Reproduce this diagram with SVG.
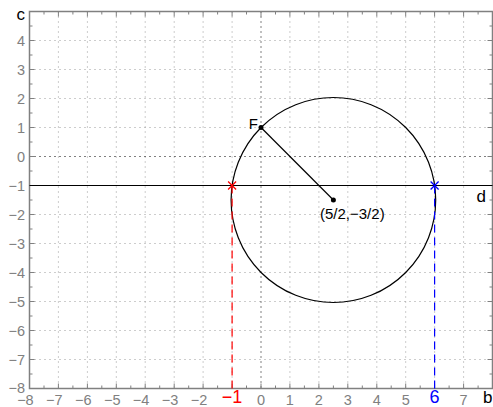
<svg xmlns="http://www.w3.org/2000/svg" width="493" height="407" viewBox="0 0 493 407">
<style>
.grid{fill:none;stroke:#9a9a9a;stroke-width:1;stroke-dasharray:1 4}
.zero{fill:none;stroke:#000;stroke-width:1;stroke-dasharray:1 4}
.frame{fill:none;stroke:#808080;stroke-width:1.5}
.tick{fill:none;stroke:#808080;stroke-width:1}
.lbl{font-family:"Liberation Sans",Arial,sans-serif;font-size:14.5px;fill:#808080}
.ax{font-family:"Liberation Sans",Arial,sans-serif;font-size:17px;fill:#000}
.txt{font-family:"Liberation Sans",Arial,sans-serif;font-size:15px;fill:#000}
.curve{fill:none;stroke:#000;stroke-width:1.2}
</style>
<rect width="493" height="407" fill="#fff"/>
<g id="grid">
<path class="grid" d="M58.4 11.5V388.5M87.4 11.5V388.5M116.3 11.5V388.5M145.2 11.5V388.5M174.2 11.5V388.5M203.1 11.5V388.5M232.1 11.5V388.5M289.9 11.5V388.5M318.9 11.5V388.5M347.8 11.5V388.5M376.8 11.5V388.5M405.7 11.5V388.5M434.6 11.5V388.5M463.6 11.5V388.5"/>
<path class="grid" d="M29.5 40.5H492.5M29.5 69.5H492.5M29.5 98.5H492.5M29.5 127.5H492.5M29.5 185.5H492.5M29.5 214.5H492.5M29.5 243.5H492.5M29.5 272.5H492.5M29.5 301.5H492.5M29.5 330.5H492.5M29.5 359.5H492.5"/>
<path class="zero" d="M261 11.5V388.5M29.5 156.5H492.5"/>
</g>
<g id="axes">
<path class="tick" d="M58.4 388.5v-5M87.4 388.5v-5M116.3 388.5v-5M145.2 388.5v-5M174.2 388.5v-5M203.1 388.5v-5M232.1 388.5v-5M261 388.5v-5M289.9 388.5v-5M318.9 388.5v-5M347.8 388.5v-5M376.8 388.5v-5M405.7 388.5v-5M434.6 388.5v-5M463.6 388.5v-5
M58.4 11.5v5M87.4 11.5v5M116.3 11.5v5M145.2 11.5v5M174.2 11.5v5M203.1 11.5v5M232.1 11.5v5M261 11.5v5M289.9 11.5v5M318.9 11.5v5M347.8 11.5v5M376.8 11.5v5M405.7 11.5v5M434.6 11.5v5M463.6 11.5v5
M44 388.5v-3M72.9 388.5v-3M101.8 388.5v-3M130.8 388.5v-3M159.7 388.5v-3M188.7 388.5v-3M217.6 388.5v-3M246.5 388.5v-3M275.5 388.5v-3M304.4 388.5v-3M333.4 388.5v-3M362.3 388.5v-3M391.2 388.5v-3M420.2 388.5v-3M449.1 388.5v-3M478.1 388.5v-3
M44 11.5v3M72.9 11.5v3M101.8 11.5v3M130.8 11.5v3M159.7 11.5v3M188.7 11.5v3M217.6 11.5v3M246.5 11.5v3M275.5 11.5v3M304.4 11.5v3M333.4 11.5v3M362.3 11.5v3M391.2 11.5v3M420.2 11.5v3M449.1 11.5v3M478.1 11.5v3
M29.5 40.5h5M29.5 69.5h5M29.5 98.5h5M29.5 127.5h5M29.5 156.5h5M29.5 185.5h5M29.5 214.5h5M29.5 243.5h5M29.5 272.5h5M29.5 301.5h5M29.5 330.5h5M29.5 359.5h5
M492.5 40.5h-5M492.5 69.5h-5M492.5 98.5h-5M492.5 127.5h-5M492.5 156.5h-5M492.5 185.5h-5M492.5 214.5h-5M492.5 243.5h-5M492.5 272.5h-5M492.5 301.5h-5M492.5 330.5h-5M492.5 359.5h-5
M29.5 26h3M29.5 55h3M29.5 84h3M29.5 113h3M29.5 142h3M29.5 171h3M29.5 200h3M29.5 229h3M29.5 258h3M29.5 287h3M29.5 316h3M29.5 345h3M29.5 374h3
M492.5 26h-3M492.5 55h-3M492.5 84h-3M492.5 113h-3M492.5 142h-3M492.5 171h-3M492.5 200h-3M492.5 229h-3M492.5 258h-3M492.5 287h-3M492.5 316h-3M492.5 345h-3M492.5 374h-3"/>
<rect class="frame" x="29.5" y="11.5" width="463" height="377"/>
<g class="lbl" text-anchor="end">
<text x="25" y="45.5">4</text>
<text x="25" y="74.5">3</text>
<text x="25" y="103.5">2</text>
<text x="25" y="132.5">1</text>
<text x="25" y="161.5">0</text>
<text x="25" y="190.5">−1</text>
<text x="25" y="219.5">−2</text>
<text x="25" y="248.5">−3</text>
<text x="25" y="277.5">−4</text>
<text x="25" y="306.5">−5</text>
<text x="25" y="335.5">−6</text>
<text x="25" y="364.5">−7</text>
<text x="25" y="392.5">−8</text>
<text x="33.7" y="404.5">−8</text>
<text x="62.6" y="404.5">−7</text>
<text x="91.6" y="404.5">−6</text>
<text x="120.5" y="404.5">−5</text>
<text x="149.4" y="404.5">−4</text>
<text x="178.4" y="404.5">−3</text>
<text x="207.3" y="404.5">−2</text>
</g>
<g class="lbl" text-anchor="middle">
<text x="261" y="404.5">0</text>
<text x="289.9" y="404.5">1</text>
<text x="318.9" y="404.5">2</text>
<text x="347.8" y="404.5">3</text>
<text x="376.8" y="404.5">4</text>
<text x="405.7" y="404.5">5</text>
<text x="463.6" y="404.5">7</text>
</g>
<text class="ax" x="25" y="20" text-anchor="end">c</text>
<text class="ax" x="483" y="403">b</text>
<text x="232.1" y="403" text-anchor="middle" font-family="Liberation Sans, Arial, sans-serif" font-size="18" fill="#ff0000">−1</text>
<text x="434.6" y="403" text-anchor="middle" font-family="Liberation Sans, Arial, sans-serif" font-size="18" fill="#0000ff">6</text>
</g>
<g id="connectors">
<path class="curve" d="M29.5 185.5H492.5" stroke-width="1.3"/>
<ellipse class="curve" cx="333.4" cy="200" rx="102.3" ry="102.5"/>
<path class="curve" d="M261 127.5L333.4 200" stroke-width="1.1"/>
<path d="M232.1 185.5V388.5" stroke="#ff0000" stroke-width="1.2" stroke-dasharray="8 5" fill="none"/>
<path d="M434.6 185.5V388.5" stroke="#0000ff" stroke-width="1.2" stroke-dasharray="8 5" fill="none"/>
</g>
<g id="node-F">
<circle cx="261" cy="127.5" r="2.5" fill="#000"/>
<text class="txt" x="258" y="128.5" text-anchor="end">F</text>
</g>
<g id="node-center">
<circle cx="333.4" cy="200" r="2.5" fill="#000"/>
<text class="txt" x="320" y="218.5">(5/2,−3/2)</text>
</g>
<g id="node-d">
<text class="ax" x="476.5" y="201.5">d</text>
</g>
<g id="node-red">
<path d="M228.1 181.5l8 8M236.1 181.5l-8 8" stroke="#ff0000" stroke-width="1.3"/>
</g>
<g id="node-blue">
<path d="M430.6 181.5l8 8M438.6 181.5l-8 8" stroke="#0000ff" stroke-width="1.3"/>
</g>
</svg>
